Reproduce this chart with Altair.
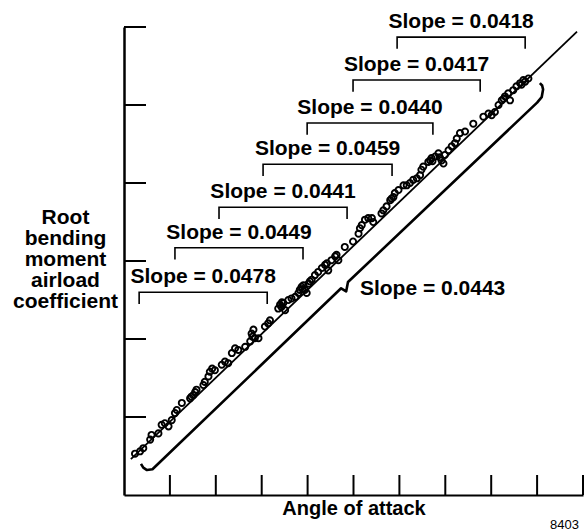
import altair as alt
import pandas as pd

# ---- data (x: angle of attack units, y: coefficient units)
pt_x = [0.24, 0.35, 0.42, 0.57, 0.60, 0.75, 0.82, 0.89, 0.97, 1.04, 1.11, 1.15, 1.26, 1.44, 1.51,
        1.55, 1.58, 1.73, 1.76, 1.84, 1.87, 1.92, 1.98, 2.13, 2.20, 2.27, 2.35, 2.42, 2.49, 2.64,
        2.75, 2.78, 2.82, 2.85, 2.93, 3.07, 3.14, 3.18, 3.36, 3.40, 3.43, 3.47, 3.51, 3.58, 3.65,
        3.73, 3.80, 3.83, 3.87, 3.91, 3.94, 3.98, 4.02, 4.09, 4.16, 4.23, 4.31, 4.38, 4.42, 4.45,
        4.52, 4.60, 4.63, 4.67, 4.81, 4.99, 5.11, 5.14, 5.18, 5.25, 5.32, 5.40, 5.43, 5.61, 5.65,
        5.72, 5.80, 5.83, 5.87, 5.90, 5.98, 6.09, 6.16, 6.23, 6.30, 6.38, 6.45, 6.48, 6.52, 6.63,
        6.67, 6.70, 6.78, 6.85, 6.92, 6.96, 6.99, 7.07, 7.14, 7.21, 7.25, 7.32, 7.43, 7.61, 7.83,
        7.94, 8.01, 8.08, 8.16, 8.23, 8.30, 8.37, 8.41, 8.48, 8.55, 8.63, 8.70, 8.74, 8.81,
        2.80, 3.44, 3.89, 6.72, 6.88, 8.27, 8.66, 1.47, 4.05]
pt_y = [0.53, 0.56, 0.60, 0.71, 0.77, 0.79, 0.90, 0.92, 0.88, 0.96, 1.05, 1.09, 1.18, 1.24, 1.28,
        1.32, 1.35, 1.41, 1.45, 1.52, 1.58, 1.62, 1.60, 1.67, 1.71, 1.69, 1.82, 1.88, 1.86, 1.90,
        1.97, 2.07, 2.12, 2.01, 2.01, 2.16, 2.20, 2.24, 2.39, 2.44, 2.41, 2.46, 2.37, 2.50, 2.52,
        2.54, 2.59, 2.63, 2.67, 2.69, 2.63, 2.59, 2.71, 2.76, 2.82, 2.86, 2.91, 2.95, 2.97, 2.88,
        3.01, 3.06, 3.08, 3.01, 3.18, 3.25, 3.35, 3.42, 3.46, 3.53, 3.55, 3.55, 3.50, 3.61, 3.65,
        3.70, 3.78, 3.80, 3.82, 3.87, 3.91, 3.97, 3.97, 4.00, 4.04, 4.06, 4.10, 4.17, 4.21, 4.27,
        4.29, 4.32, 4.34, 4.38, 4.29, 4.25, 4.36, 4.42, 4.47, 4.51, 4.57, 4.64, 4.66, 4.76, 4.85,
        4.89, 4.87, 4.91, 5.00, 5.06, 5.11, 5.15, 5.06, 5.19, 5.24, 5.28, 5.32, 5.30, 5.34,
        2.03, 2.47, 2.64, 4.28, 4.33, 5.08, 5.26, 1.26, 2.74]

fit_x = [0.15, 9.87]
fit_y = [0.46, 5.94]

# brace under the data (overall slope)
brace_x = [0.37, 0.42, 0.50, 0.62, 4.73, 4.84, 4.88, 9.00, 9.10, 9.13, 9.11, 9.06]
brace_y = [0.40, 0.35, 0.32, 0.33, 2.65, 2.61, 2.73, 5.03, 5.10, 5.20, 5.25, 5.28]

# segment brackets (left x, right x, top y) and their slopes
br_x1 = [0.33, 1.11, 2.07, 3.03, 3.99, 4.99, 5.95]
br_x2 = [3.12, 3.90, 4.86, 5.84, 6.73, 7.76, 8.74]
br_y = [2.60, 3.17, 3.69, 4.24, 4.77, 5.32, 5.87]
br_slope = ["0.0478", "0.0449", "0.0441", "0.0459", "0.0440", "0.0417", "0.0418"]

overall_slope = "0.0443"
overall_pos = (5.14, 2.56)

x_ticks = [1, 2, 3, 4, 5, 6, 7, 8, 9, 10]
y_ticks = [1, 2, 3, 4, 5, 6]

fig_number = "8403"
fig_pos = (9.28, -0.43)

# ---- tables
DROP = 0.15
pts = pd.DataFrame({"x": pt_x, "y": pt_y})
fit = pd.DataFrame({"x": fit_x, "y": fit_y})
brace = pd.DataFrame({"x": brace_x, "y": brace_y, "o": list(range(len(brace_x)))})
rows = []
for i, (a, b, t) in enumerate(zip(br_x1, br_x2, br_y)):
    for k, (xx, yy) in enumerate([(a, t - DROP), (a, t), (b, t), (b, t - DROP)]):
        rows.append({"id": i, "o": k, "x": xx, "y": yy})
brackets = pd.DataFrame(rows)
labels = pd.DataFrame({
    "x": [(a + b) / 2 for a, b in zip(br_x1, br_x2)],
    "y": br_y,
    "t": ["Slope = " + s for s in br_slope],
})
overall = pd.DataFrame({"x": [overall_pos[0]], "y": [overall_pos[1]],
                        "t": ["Slope  =  " + overall_slope]})
fig = pd.DataFrame({"x": [fig_pos[0]], "y": [fig_pos[1]], "t": [fig_number]})
xt = pd.DataFrame({"v": x_ticks})
yt = pd.DataFrame({"v": y_ticks})

FONT = "Liberation Sans"
xs = alt.Scale(domain=[0, 10], nice=False, zero=False)
ys = alt.Scale(domain=[0, 6], nice=False, zero=False)

xax = alt.Axis(title="Angle of attack", ticks=False, labels=False, grid=False,
               domainColor="black", domainWidth=2.2, titleFont=FONT, titleFontSize=20,
               titleFontWeight="bold", titleColor="black", titleBaseline="alphabetic", titleY=19)
yax = alt.Axis(title=["Root", "bending", "moment", "airload", "coefficient"], ticks=False,
               labels=False, grid=False, domainColor="black", domainWidth=2.5, titleFont=FONT,
               titleFontSize=21, titleFontWeight="bold", titleColor="black", titleAngle=0,
               titleAlign="center", titleBaseline="alphabetic", titleX=-59, titleY=196,
               titleLineHeight=21)

base_axes = alt.Chart(pts).mark_point(filled=False, color="black", size=38, strokeWidth=1.9,
                                       opacity=1).encode(
    x=alt.X("x:Q", scale=xs, axis=xax),
    y=alt.Y("y:Q", scale=ys, axis=yax),
)

fit_line = alt.Chart(fit).mark_line(color="black", strokeWidth=1.8).encode(
    x=alt.X("x:Q", scale=xs), y=alt.Y("y:Q", scale=ys))

brace_line = alt.Chart(brace).mark_line(color="black", strokeWidth=2.6,
                                        strokeJoin="round").encode(
    x=alt.X("x:Q", scale=xs), y=alt.Y("y:Q", scale=ys), order="o:O")

bracket_lines = alt.Chart(brackets).mark_line(color="black", strokeWidth=1.6).encode(
    x=alt.X("x:Q", scale=xs), y=alt.Y("y:Q", scale=ys), detail="id:N", order="o:O")

label_text = alt.Chart(labels).mark_text(font=FONT, fontSize=21, fontWeight="bold",
                                         color="black", align="center",
                                         baseline="alphabetic", dy=-9).encode(
    x=alt.X("x:Q", scale=xs), y=alt.Y("y:Q", scale=ys), text="t:N")

overall_text = alt.Chart(overall).mark_text(font=FONT, fontSize=21, fontWeight="bold",
                                            color="black", align="left",
                                            baseline="alphabetic").encode(
    x=alt.X("x:Q", scale=xs), y=alt.Y("y:Q", scale=ys), text="t:N")

fig_text = alt.Chart(fig).mark_text(font=FONT, fontSize=13, color="black", align="left",
                                    baseline="alphabetic").encode(
    x=alt.X("x:Q", scale=xs), y=alt.Y("y:Q", scale=ys), text="t:N")

x_tick_rules = alt.Chart(xt).mark_rule(color="black", strokeWidth=2).encode(
    x=alt.X("v:Q", scale=xs), y=alt.value(468), y2=alt.value(448))

y_tick_rules = alt.Chart(yt).mark_rule(color="black", strokeWidth=2).encode(
    y=alt.Y("v:Q", scale=ys), x=alt.value(0), x2=alt.value(22))

chart = alt.layer(
    base_axes, fit_line, brace_line, bracket_lines, label_text, overall_text, fig_text,
    x_tick_rules, y_tick_rules,
).properties(
    width=459, height=468,
    padding={"left": 124, "top": 27, "right": 4, "bottom": 36},
    autosize="none",
    background="white",
).configure_view(stroke=None)

chart.save("out.html", embed_options={"renderer": "svg", "actions": False})
